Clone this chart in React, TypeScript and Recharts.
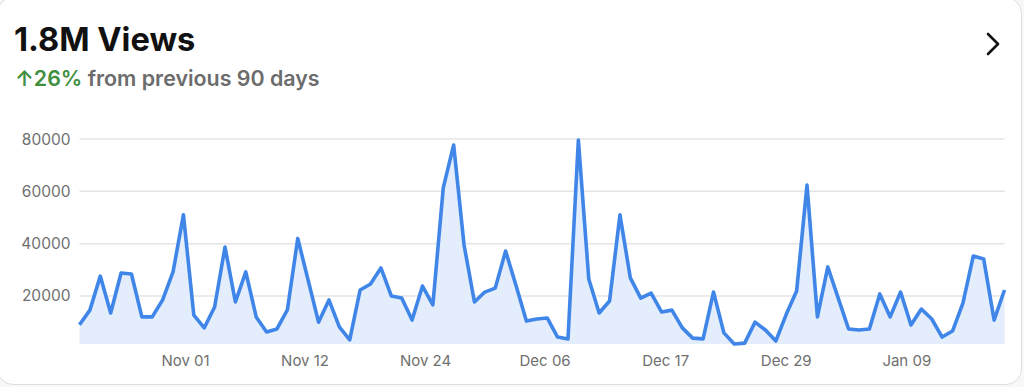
import React from 'react';
import { AreaChart, Area, XAxis, YAxis, CartesianGrid } from 'recharts';

const views: number[] = [
  9000, 14600, 27600, 13500, 28800, 28400, 12000, 12000, 18500, 29200,
  51000, 12700, 7800, 15800, 38700, 17700, 29200, 12000, 6250, 7400,
  14650, 42000, 26000, 10000, 18500, 8200, 3200, 22300, 24600, 30700,
  20000, 19200, 10800, 23800, 16600, 61300, 77700, 39500, 17700, 21500,
  23000, 37200, 24000, 10400, 11200, 11600, 4300, 3600, 79600, 26500,
  13500, 18100, 51000, 26900, 19200, 21100, 13900, 14600, 7800, 3900,
  3600, 21500, 5900, 1650, 2000, 10000, 7000, 2800, 13000, 21900,
  62400, 12000, 31100, 19200, 7400, 7000, 7400, 20800, 12000, 21500,
  8900, 15000, 11200, 4300, 6600, 17300, 35300, 34100, 10800, 22300,
];

const dayIndex: number[] = views.map((_, i) => i);

const xTickPositions: number[] = [10.2, 21.7, 33.3, 44.8, 56.4, 68.0, 79.6];
const xTickLabels: string[] = ['Nov 01', 'Nov 12', 'Nov 24', 'Dec 06', 'Dec 17', 'Dec 29', 'Jan 09'];
const yTicks: number[] = [20000, 40000, 60000, 80000];

const data = dayIndex.map((d, i) => ({ day: d, views: views[i] }));

const FONT = 'Inter, "Noto Sans", sans-serif';

export default function App() {
  return (
    <div style={{ position: 'absolute', left: 0, top: 0, width: 1024, height: 387, background: '#f8f8f8', overflow: 'hidden', fontFamily: FONT }}>
      <div style={{ position: 'absolute', left: -3, top: -3, width: 1025, height: 388, background: '#fff', border: '1px solid #dedede', borderRadius: 16, boxSizing: 'border-box' }} />
      <div style={{ position: 'absolute', left: 14, top: 19, fontSize: 32.6, fontWeight: 700, color: '#111', letterSpacing: 0, lineHeight: '40px' }}>
        1.8M Views
      </div>
      <div style={{ position: 'absolute', left: 15, top: 64, fontSize: 21.4, fontWeight: 600, color: '#6c6c6c', lineHeight: '28px' }}>
        <span style={{ color: '#3f8f3f' }}>↑26%</span> from previous 90 days
      </div>
      <svg style={{ position: 'absolute', left: 982, top: 30 }} width={22} height={28}>
        <path d="M6 4 L16 14 L6 24" fill="none" stroke="#111" strokeWidth={2.6} strokeLinecap="round" strokeLinejoin="round" />
      </svg>
      <div style={{ position: 'absolute', left: 0, top: 0 }}>
        <AreaChart width={1024} height={387} data={data} margin={{ top: 139, right: 19.5, bottom: 13, left: 0 }}>
          <CartesianGrid horizontal={true} vertical={false} stroke="#e4e4e4" strokeWidth={1.5} horizontalValues={yTicks} />
          <XAxis
            dataKey="day"
            type="number"
            domain={[0, views.length - 1]}
            ticks={xTickPositions}
            tickFormatter={(v: number) => xTickLabels[xTickPositions.indexOf(v)] ?? ''}
            axisLine={false}
            tickLine={false}
            tickSize={0}
            tickMargin={11}
            height={30}
            interval={0}
            tick={{ fill: '#6f6f6f', fontSize: 15, fontFamily: FONT }}
          />
          <YAxis
            domain={[1650, 80000]}
            ticks={yTicks}
            axisLine={false}
            tickLine={false}
            tickSize={0}
            tickMargin={9}
            width={79.5}
            tick={{ fill: '#6f6f6f', fontSize: 15.5, fontFamily: FONT }}
          />
          <Area
            type="linear"
            dataKey="views"
            stroke="#3f86e8"
            strokeWidth={3.6}
            fill="#e3edfc"
            fillOpacity={1}
            baseValue="dataMin"
            isAnimationActive={false}
            dot={false}
            activeDot={false}
            strokeLinejoin="round"
          />
        </AreaChart>
      </div>
    </div>
  );
}
